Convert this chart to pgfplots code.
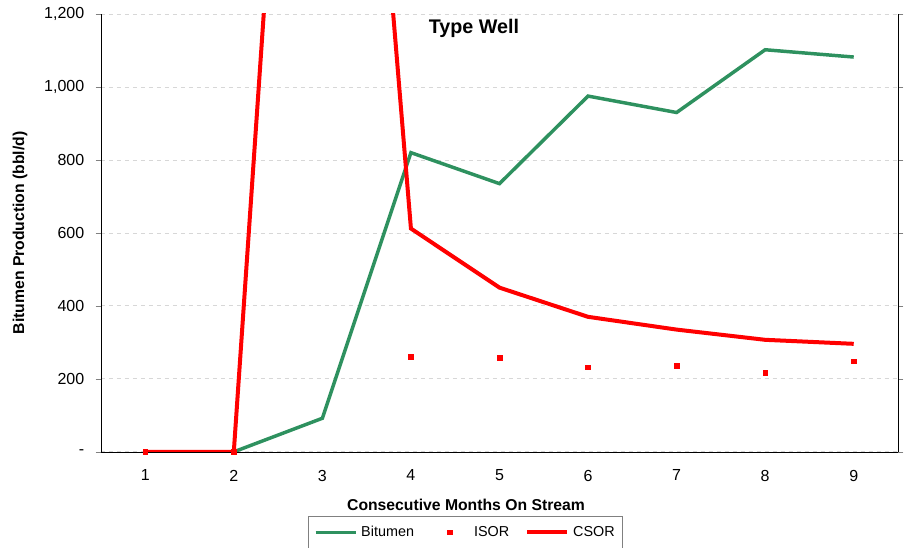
\documentclass[border=0pt]{standalone}
\usepackage{fontspec}
\setmainfont{Liberation Sans}
\usepackage{pgfplots}
\pgfplotsset{compat=1.18}

\definecolor{bitgreen}{RGB}{46,145,95}
\definecolor{gridgray}{RGB}{215,215,215}

\pgfplotsset{
    markleg/.style={legend image code/.code={%
        \path[draw=none, fill=none] (0pt,0pt) rectangle (30pt,0pt);
        \draw[mark repeat=2,mark phase=2,##1] plot coordinates {(0pt,0pt) (15pt,0pt) (30pt,0pt)};}},
}

\begin{document}
\begin{tikzpicture}
\begin{axis}[
    name=ax,
    width=598pt, height=328.5pt,
    scale only axis,
    xmin=0.5, xmax=9.5,
    ymin=0, ymax=1200,
    axis x line*=bottom,
    x axis line style={-},
    xtick={1,...,9},
    xtick style={draw=none},
    minor xtick={0.5,1.5,...,9.5},
    minor tick length=4pt,
    ytick={0,200,...,1200},
    yticklabels={-,200,400,600,800,{1,000},{1,200}},
    ytick pos=both,
    yticklabel pos=left,
    tick align=outside,
    major tick length=4pt,
    ymajorgrids,
    grid style={gridgray, dashed, line width=0.6pt},
    /pgf/number format/assume math mode=true,
    tick label style={font=\fontsize{12}{14}\selectfont},
    yticklabel style={xshift=-5pt},
    xticklabel style={yshift=-6pt},
    xlabel={\bfseries Consecutive Months On Stream},
    ylabel={\bfseries Bitumen Production (bbl/d)},
    label style={font=\fontsize{11.8}{14}\selectfont},
    xlabel style={at={(axis description cs:0.458,0)}, anchor=center, yshift=-39.5pt},
    ylabel style={at={(axis description cs:-0.1016,0.5)}, anchor=center},
    clip=true,
    legend columns=3,
    legend style={at={(axis description cs:0.4575,0)}, anchor=north, yshift=-48.5pt,
        draw=gray, line width=0.6pt, font=\fontsize{10.8}{13}\selectfont,
        inner xsep=4pt, inner ysep=5pt,
        /tikz/every odd column/.append style={column sep=1pt},
        /tikz/every even column/.append style={column sep=10pt}},
    legend image code/.code={\draw[#1] (0pt,0pt) -- (30pt,0pt);},
    legend cell align=left,
]
\addplot[bitgreen, line width=2.6pt] coordinates {
    (2,0) (3,92) (4,820) (5,735) (6,975) (7,930) (8,1102) (9,1082)
};
\addlegendentry{Bitumen}
\addplot[only marks, mark=square*, mark size=1.8pt, red, markleg] coordinates {
    (1,0) (2,0) (4,261) (5,258) (6,232) (7,235) (8,217) (9,248)
};
\addlegendentry{ISOR}
\addplot[red, line width=3pt] coordinates {
    (1,0) (2,0) (3,3550) (4,612) (5,450) (6,370) (7,335) (8,307) (9,296)
};
\addlegendentry{CSOR}
\node[font=\fontsize{14.8}{17}\selectfont\bfseries, anchor=center]
    at (rel axis cs:0.468,0.968) {Type Well};
\end{axis}
\pgfresetboundingbox
\path (ax.south west) ++(-75.75pt,-72pt) coordinate (A);
\path (ax.north east) ++(5.25pt,10.5pt) coordinate (B);
\path[use as bounding box] (A) rectangle (B);
\end{tikzpicture}
\end{document}
